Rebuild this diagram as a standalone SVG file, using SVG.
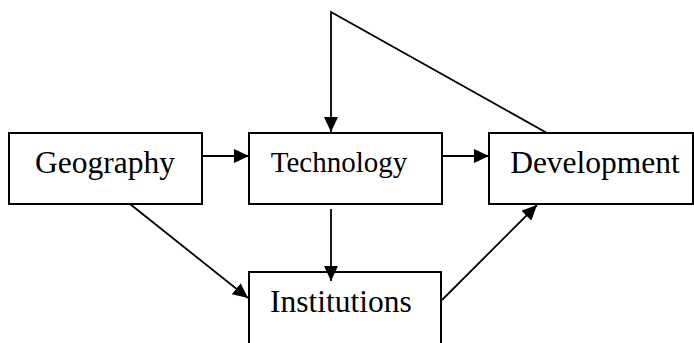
<svg xmlns="http://www.w3.org/2000/svg" width="694" height="343" viewBox="0 0 694 343">
<style>
.box{fill:#fff;stroke:#000;stroke-width:2}
.lbl{font-family:"Liberation Serif","Times New Roman",serif;font-size:31.5px;fill:#000;text-anchor:middle}
.c{fill:none;stroke:#000;stroke-width:1.8}
</style>
<defs>
<marker id="ah" markerUnits="userSpaceOnUse" markerWidth="16" markerHeight="14" refX="15" refY="7" orient="auto" viewBox="0 0 16 14">
<path d="M0,0 L15,7 L0,14 Z" fill="#000"/>
</marker>
</defs>
<g id="geography"><rect class="box" x="9" y="133" width="193" height="71"/><text class="lbl" x="105" y="173">Geography</text></g>
<g id="technology"><rect class="box" x="249" y="133" width="193" height="71"/><text class="lbl" x="339" y="172" style="font-size:29px">Technology</text></g>
<g id="development"><rect class="box" x="489" y="133" width="204" height="71"/><text class="lbl" x="595" y="173">Development</text></g>
<g id="institutions"><rect class="box" x="249" y="272" width="192" height="80"/><text class="lbl" x="341" y="312">Institutions</text></g>
<g id="connectors">
<line class="c" x1="202" y1="156" x2="249" y2="156" marker-end="url(#ah)"/>
<line class="c" x1="442" y1="156" x2="489" y2="156" marker-end="url(#ah)"/>
<polyline class="c" points="547,133 331,12 331,132" marker-end="url(#ah)"/>
<line class="c" x1="331" y1="209" x2="331" y2="281" marker-end="url(#ah)"/>
<line class="c" x1="130" y1="204" x2="248" y2="298" marker-end="url(#ah)"/>
<line class="c" x1="442" y1="300" x2="537" y2="205" marker-end="url(#ah)"/>
</g>
</svg>
